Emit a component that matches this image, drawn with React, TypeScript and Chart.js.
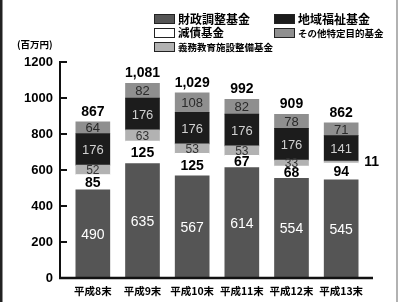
import React, { useEffect, useRef } from "react";
import { Chart, registerables } from "chart.js";

Chart.register(...registerables);

const categories = ["平成8末", "平成9末", "平成10末", "平成11末", "平成12末", "平成13末"];
const seriesNames = ["財政調整基金", "減債基金", "義務教育施設整備基金", "地域福祉基金", "その他特定目的基金"];
const zaiseiChosei = [490, 635, 567, 614, 554, 545];
const gensai = [85, 125, 125, 67, 68, 94];
const gimuKyoiku = [52, 63, 53, 53, 33, 11];
const chiikiFukushi = [176, 176, 176, 176, 176, 141];
const sonota = [64, 82, 108, 82, 78, 71];
const yMax = 1200;
const yStep = 200;
const unitLabel = "(百万円)";

const seriesValues = [zaiseiChosei, gensai, gimuKyoiku, chiikiFukushi, sonota];
const fillColors = ["#555555", "#ffffff", "#b2b2b2", "#1c1c1c", "#8f8f8f"];
const labelColors = ["#ffffff", "#000000", "#333333", "#d0d0d0", "#2a2a2a"];
const labelFonts = [
  "14px 'Liberation Sans', Arial, sans-serif",
  "bold 14px 'Liberation Sans', Arial, sans-serif",
  "12px 'Liberation Sans', Arial, sans-serif",
  "13px 'Liberation Sans', Arial, sans-serif",
  "13px 'Liberation Sans', Arial, sans-serif",
];
const CJK = "'Noto Sans CJK JP', sans-serif";

// legend layout: [datasetIndex, column, row, fontSize]
const legendLayout: [number, number, number, number][] = [
  [0, 0, 0, 12],
  [3, 1, 0, 12],
  [1, 0, 1, 11.5],
  [4, 1, 1, 9.5],
  [2, 0, 2, 9.5],
];

const overlay = {
  id: "overlay",
  afterDatasetsDraw(chart: any) {
    const ctx = chart.ctx as CanvasRenderingContext2D;
    const ys = chart.scales.y;
    const area = chart.chartArea;
    ctx.save();

    // scan borders
    ctx.fillStyle = "#222";
    ctx.fillRect(0, 0, 2.5, 302);
    ctx.fillStyle = "#666";
    ctx.fillRect(396.5, 0, 1, 302);

    // axes
    const axX = 60;
    const top = ys.getPixelForValue(yMax);
    const bottom = ys.getPixelForValue(0);
    ctx.strokeStyle = "#111";
    ctx.lineWidth = 2;
    ctx.beginPath();
    ctx.moveTo(axX, top - 1);
    ctx.lineTo(axX, bottom + 1);
    ctx.stroke();
    ys.ticks.forEach((t: any) => {
      if (t.value === 0) return;
      const py = Math.round(ys.getPixelForValue(t.value));
      ctx.beginPath();
      ctx.moveTo(axX, py);
      ctx.lineTo(axX + 7, py);
      ctx.stroke();
    });
    ctx.lineWidth = 2.5;
    ctx.beginPath();
    ctx.moveTo(axX - 1, bottom);
    ctx.lineTo(area.right + 7, bottom);
    ctx.stroke();

    // unit label
    ctx.fillStyle = "#000";
    ctx.font = `bold 9.5px ${CJK}`;
    ctx.textAlign = "left";
    ctx.textBaseline = "middle";
    ctx.fillText(unitLabel, 17, 44);

    // segment labels
    const order = [0, 3, 4, 2, 1];
    order.forEach((di) => {
      const meta = chart.getDatasetMeta(di);
      const vals = seriesValues[di];
      meta.data.forEach((bar: any, i: number) => {
        const h = Math.abs(bar.base - bar.y);
        const cy = (bar.base + bar.y) / 2;
        if (h < 4) {
          ctx.font = "bold 14px 'Liberation Sans', Arial, sans-serif";
          ctx.fillStyle = "#000";
          ctx.textAlign = "left";
          ctx.fillText(String(vals[i]), bar.x + bar.width / 2 + 6, cy);
        } else {
          ctx.font = labelFonts[di];
          ctx.fillStyle = labelColors[di];
          ctx.textAlign = "center";
          ctx.fillText(String(vals[i]), bar.x, cy + 1);
        }
      });
    });

    // totals
    const lastMeta = chart.getDatasetMeta(seriesValues.length - 1);
    ctx.font = "bold 14px 'Liberation Sans', Arial, sans-serif";
    ctx.fillStyle = "#000";
    ctx.textAlign = "center";
    lastMeta.data.forEach((bar: any, i: number) => {
      const total = seriesValues.reduce((s, arr) => s + arr[i], 0);
      ctx.fillText(total.toLocaleString("en-US"), bar.x, bar.y - 10);
    });

    // legend
    const colX = [154, 274];
    const rowY = [19, 33, 47];
    legendLayout.forEach(([di, c, r, fs]) => {
      const x = colX[c];
      const y = rowY[r];
      ctx.fillStyle = fillColors[di];
      ctx.fillRect(x, y - 5, 21, 10);
      ctx.strokeStyle = "#222";
      ctx.lineWidth = 1;
      ctx.strokeRect(x + 0.5, y - 4.5, 20, 9);
      ctx.fillStyle = "#000";
      ctx.font = `bold ${fs}px ${CJK}`;
      ctx.textAlign = "left";
      ctx.textBaseline = "middle";
      ctx.fillText(seriesNames[di], x + 24, y);
    });

    ctx.restore();
  },
};

export default function App() {
  const ref = useRef<HTMLCanvasElement | null>(null);
  useEffect(() => {
    document.body.style.margin = "0";
    const canvas = ref.current;
    if (!canvas) return;
    const chart = new Chart(canvas, {
      type: "bar",
      data: {
        labels: categories,
        datasets: seriesValues.map((vals, di) => ({
          label: seriesNames[di],
          data: vals,
          backgroundColor: fillColors[di],
          borderWidth: 0,
          barThickness: 34,
        })),
      },
      options: {
        responsive: false,
        animation: false,
        devicePixelRatio: 1,
        layout: { padding: { top: 62, right: 33, left: 0, bottom: 0 } },
        plugins: { legend: { display: false }, tooltip: { enabled: false } },
        scales: {
          x: {
            stacked: true,
            grid: { display: false, drawTicks: false },
            border: { display: false },
            ticks: {
              color: "#000",
              padding: 7,
              maxRotation: 0,
              minRotation: 0,
              autoSkip: false,
              font: { family: "'Noto Sans CJK JP', sans-serif", size: 10.5, weight: "bold" },
            },
            afterFit: (s: any) => {
              s.height = 24;
            },
          },
          y: {
            stacked: true,
            min: 0,
            max: yMax,
            grid: { display: false, drawTicks: false },
            border: { display: false },
            ticks: {
              stepSize: yStep,
              color: "#000",
              padding: 15,
              font: { family: "'Liberation Sans', Arial, sans-serif", size: 13, weight: "bold" },
              callback: (v: any) => String(v),
            },
            afterFit: (s: any) => {
              s.width = 68;
            },
          },
        },
      },
      plugins: [overlay],
    });
    return () => chart.destroy();
  }, []);
  return (
    <div style={{ position: "fixed", left: 0, top: 0, width: 399, height: 302, background: "#fff" }}>
      <canvas ref={ref} width={399} height={302} />
    </div>
  );
}
